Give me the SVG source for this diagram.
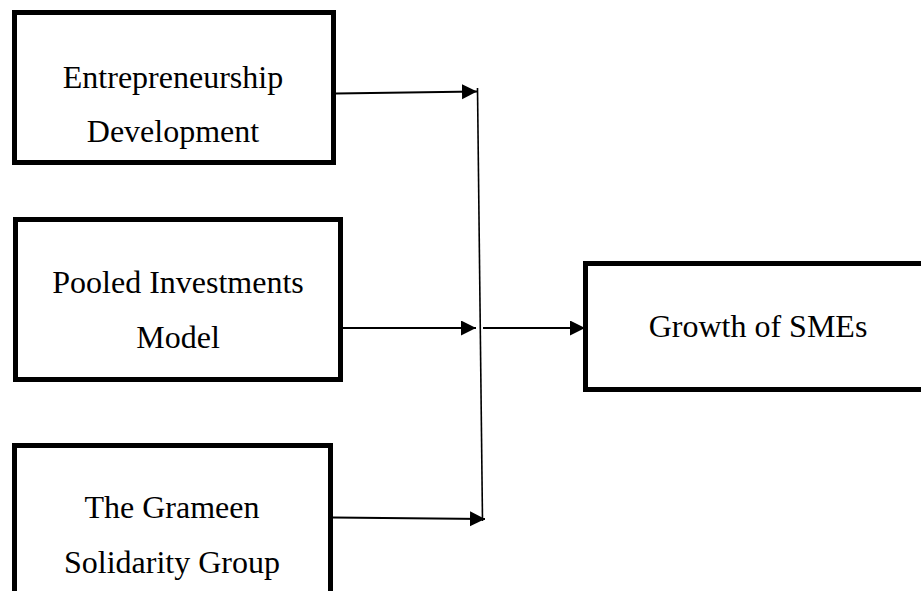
<svg xmlns="http://www.w3.org/2000/svg" width="921" height="591" viewBox="0 0 921 591">
  <style>
    .box { fill: #ffffff; stroke: #000000; stroke-width: 5; }
    .label { font-family: "Liberation Serif", "Times New Roman", serif; font-size: 32px; fill: #000000; text-anchor: middle; }
    .link { stroke: #000000; stroke-width: 2; fill: none; }
    .spine { stroke: #000000; stroke-width: 1.6; fill: none; }
  </style>
  <defs>
    <marker id="arrow" markerUnits="userSpaceOnUse" markerWidth="16" markerHeight="16" refX="15" refY="7.5" orient="auto">
      <path d="M0,0 L15,7.5 L0,15 Z" fill="#000000"/>
    </marker>
  </defs>
  <rect width="921" height="591" fill="#ffffff"/>

  <g id="entrepreneurship">
    <rect class="box" x="14.5" y="12.5" width="319" height="150"/>
    <text class="label" x="173" y="88">Entrepreneurship</text>
    <text class="label" x="173" y="142">Development</text>
  </g>

  <g id="pooled-investments">
    <rect class="box" x="15.5" y="219.5" width="325" height="160"/>
    <text class="label" x="178" y="293">Pooled Investments</text>
    <text class="label" x="178" y="348">Model</text>
  </g>

  <g id="grameen">
    <rect class="box" x="14.5" y="445.5" width="316" height="170"/>
    <text class="label" x="172" y="518">The Grameen</text>
    <text class="label" x="172" y="573">Solidarity Group</text>
  </g>

  <g id="growth">
    <rect class="box" x="585.5" y="263.5" width="345" height="126"/>
    <text class="label" x="758" y="337">Growth of SMEs</text>
  </g>

  <g id="connectors">
    <line class="spine" x1="477.5" y1="88" x2="482.5" y2="521"/>
    <line class="link" x1="336" y1="93.5" x2="477" y2="91.5" marker-end="url(#arrow)"/>
    <line class="link" x1="343" y1="328" x2="476" y2="328" marker-end="url(#arrow)"/>
    <line class="link" x1="333" y1="517.5" x2="485" y2="519" marker-end="url(#arrow)"/>
    <line class="link" x1="483" y1="328" x2="585" y2="328" marker-end="url(#arrow)"/>
  </g>
</svg>
